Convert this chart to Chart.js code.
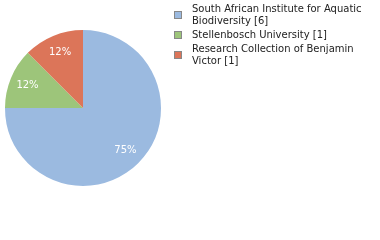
<!DOCTYPE html>
<html>
<head>
<meta charset="utf-8">
<script src="https://cdn.jsdelivr.net/npm/chart.js@4"></script>
<style>
  html, body { margin: 0; padding: 0; background: #fff; }
  #wrap { width: 380px; height: 240px; position: relative; }
</style>
</head>
<body>
<div id="wrap"><canvas id="chartCanvas" width="380" height="240"></canvas></div>
<script>
// data
const labels = ["South African Institute for Aquatic Biodiversity", "Stellenbosch University", "Research Collection of Benjamin Victor"];
const counts = [6, 1, 1];
const colors = ["#9bbae0", "#9dc57a", "#dc7559"];

const total = counts.reduce((a, b) => a + b, 0);

// percent labels inside slices
const sliceLabels = {
  id: "sliceLabels",
  afterDatasetsDraw(chart) {
    const ctx = chart.ctx;
    const meta = chart.getDatasetMeta(0);
    ctx.save();
    ctx.fillStyle = "#fff";
    ctx.font = "10px 'DejaVu Sans'";
    ctx.textAlign = "center";
    ctx.textBaseline = "middle";
    meta.data.forEach((arc, i) => {
      const mid = (arc.startAngle + arc.endAngle) / 2;
      const r = arc.outerRadius * 0.77;
      const pct = Math.floor(counts[i] / total * 100) + "%";
      ctx.fillText(pct, arc.x + Math.cos(mid) * r, arc.y + Math.sin(mid) * r);
    });
    ctx.restore();
  }
};

// legend drawn on the right, wrapped text
const sideLegend = {
  id: "sideLegend",
  afterDraw(chart) {
    const ctx = chart.ctx;
    ctx.save();
    ctx.font = "10px 'DejaVu Sans'";
    ctx.textBaseline = "middle";
    const x0 = 174, tx = 192, maxW = 180, lh = 12;
    let y = 9;
    labels.forEach((name, i) => {
      const words = (name + " [" + counts[i] + "]").split(" ");
      const lines = [];
      let cur = "";
      words.forEach(w => {
        const test = cur ? cur + " " + w : w;
        if (ctx.measureText(test).width > maxW && cur) { lines.push(cur); cur = w; }
        else cur = test;
      });
      lines.push(cur);
      const cy = Math.round(y + (lines.length - 1) * lh / 2);
      ctx.fillStyle = colors[i];
      ctx.fillRect(x0 + 0.5, cy - 3.5, 7, 7);
      ctx.strokeStyle = "#888";
      ctx.lineWidth = 1;
      ctx.strokeRect(x0 + 0.5, cy - 3.5, 7, 7);
      ctx.fillStyle = "#222";
      lines.forEach((ln, j) => ctx.fillText(ln, tx, y + j * lh));
      y += lines.length * lh + 2;
    });
    ctx.restore();
  }
};

new Chart(document.getElementById("chartCanvas"), {
  type: "pie",
  data: {
    labels: labels,
    datasets: [{ data: counts, backgroundColor: colors, borderWidth: 0 }]
  },
  options: {
    responsive: false,
    animation: false,
    layout: { padding: { left: 5, right: 219, top: 30, bottom: 54 } },
    plugins: { legend: { display: false }, tooltip: { enabled: false } }
  },
  plugins: [sliceLabels, sideLegend]
});
</script>
</body>
</html>
